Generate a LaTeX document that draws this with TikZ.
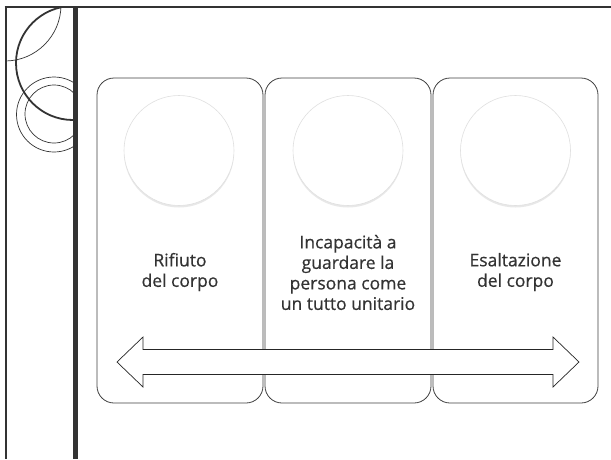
\documentclass[tikz,border=0pt]{standalone}
\usepackage{fontspec}
\setmainfont[FakeBold=0.5]{Open Sans}
\usetikzlibrary{shadows}
\definecolor{frame}{HTML}{333333}
\definecolor{txt}{HTML}{333333}
\begin{document}
\begin{tikzpicture}[x=1pt,y=-1pt,
  panel/.style={draw=black!75, line width=0.8pt, rounded corners=17pt, fill=white},
  disc/.style={circle, minimum size=110pt, inner sep=0pt, fill=white, draw=black!12, line width=0.6pt,
    drop shadow={opacity=0.18, shadow xshift=0pt, shadow yshift=-2pt}},
  label/.style={align=center, text=txt, font=\fontsize{17.5}{20.5}\selectfont, inner sep=0pt},
  arrowshape/.style={fill=white, draw=black!85, line width=0.7pt, line join=miter}]
\useasboundingbox (0,0) rectangle (611,459);
% left decorations
\begin{scope}
  \clip (5,7) rectangle (73,459);
  \draw[frame, line width=0.7pt] (5,5) circle (56);
  \draw[frame, line width=1.8pt] (73,63) circle (57);
  \draw[frame, line width=0.7pt] (54,114.5) circle (37.5);
  \draw[frame, line width=0.7pt] (54,114) circle (29);
\end{scope}
% frame
\draw[frame, line width=2.5pt] (4.5,7) -- (611,7);
\draw[frame, line width=2pt] (5.5,7) -- (5.5,459);
\draw[frame, line width=5pt] (75,7) -- (75,459);
% panels
\draw[panel] (97,78) rectangle (263,403);
\draw[panel] (265,78) rectangle (431,403);
\draw[panel] (433,78) rectangle (598,403);
\node[disc] (c1) at (179,150.5) {};
\node[disc] (c2) at (348,150.5) {};
\node[disc] (c3) at (515.5,150.5) {};
\node[label] (t1) at (180,272) {Rifiuto\\del corpo};
\node[label] (t2) at (348,272.5) {Incapacità a\\guardare la\\persona come\\un tutto unitario};
\node[label] (t3) at (515.5,272) {Esaltazione\\del corpo};
% double arrow
\draw[arrowshape] (117,362) -- (143,337) -- (143,349.5) -- (553,349.5) -- (553,337) -- (579,362)
  -- (553,387) -- (553,374.5) -- (143,374.5) -- (143,387) -- cycle;
\end{tikzpicture}
\end{document}
